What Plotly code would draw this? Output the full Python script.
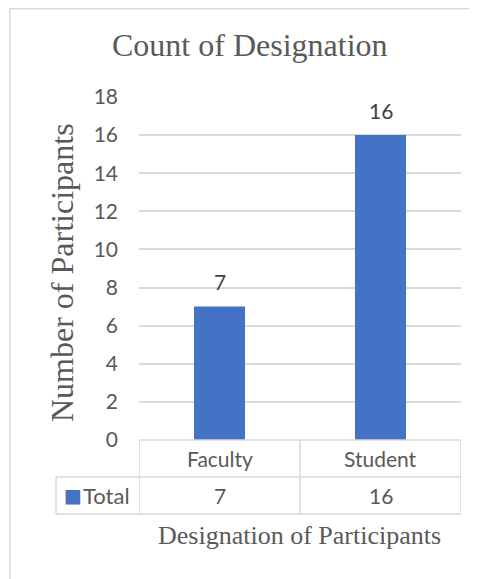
import plotly.graph_objects as go

categories = ["Faculty", "Student"]
values = [7, 16]
series_name = "Total"
chart_title = "Count of Designation"
x_title = "Designation of Participants"
y_title = "Number of Participants"
y_ticks = [0, 2, 4, 6, 8, 10, 12, 14, 16, 18]

W, H = 477, 579
OFF = 8  # page body margin offset
BAR = "#4472C4"
GRID = "#d9d9d9"
TXT = "#595959"
DARK = "#404040"
SANS = "Lato, 'Liberation Sans', sans-serif"
SERIF = "'Liberation Serif', 'Times New Roman', serif"

def px(x):
    return (x - OFF) / W

def py(y):
    return 1 - (y - OFF) / H

fig = go.Figure()
fig.add_trace(go.Bar(x=categories, y=values, name=series_name,
                     marker=dict(color=BAR, line=dict(width=0)),
                     showlegend=False, hoverinfo="skip"))

annotations = []
for c, v in zip(categories, values):
    annotations.append(dict(x=c, y=v, xref="x", yref="y", text=str(v),
                            showarrow=False, yanchor="middle", yshift=25,
                            font=dict(family=SANS, size=21, color=DARK)))
for c, v in zip(categories, values):
    annotations.append(dict(x=c, y=py(458.5), xref="x", yref="paper", text=c,
                            showarrow=False, yanchor="middle",
                            font=dict(family=SANS, size=21, color=TXT)))
    annotations.append(dict(x=c, y=py(495.5), xref="x", yref="paper", text=str(v),
                            showarrow=False, yanchor="middle",
                            font=dict(family=SANS, size=21, color=TXT)))
annotations.append(dict(x=px(62), y=py(495), xref="paper", yref="paper",
                        text="■",
                        showarrow=False, xanchor="left", yanchor="middle",
                        font=dict(family="DejaVu Sans", size=19, color=BAR)))
annotations.append(dict(x=px(81), y=py(495.5), xref="paper", yref="paper",
                        text=series_name,
                        showarrow=False, xanchor="left", yanchor="middle",
                        font=dict(family=SANS, size=22, color=TXT)))
annotations.append(dict(x=px(250), y=py(45), xref="paper", yref="paper",
                        text=chart_title, showarrow=False, yanchor="middle",
                        font=dict(family=SERIF, size=32, color=TXT)))
annotations.append(dict(x=px(299), y=py(535), xref="paper", yref="paper",
                        text=x_title, showarrow=False, yanchor="middle",
                        font=dict(family=SERIF, size=26, color=TXT)))
annotations.append(dict(x=px(62), y=py(273), xref="paper", yref="paper",
                        text=y_title, showarrow=False, textangle=-90,
                        xanchor="center", yanchor="middle",
                        font=dict(family=SERIF, size=32, color=TXT)))

n = len(categories)
LINE = dict(color=GRID, width=1.5)
shapes = []
shapes.append(dict(type="rect", xref="paper", yref="paper",
                   x0=px(10), x1=1.2, y0=-0.2, y1=py(8.8), line=LINE))
for i in range(n + 1):
    shapes.append(dict(type="line", xref="x", yref="paper",
                       x0=i - 0.5, x1=i - 0.5, y0=py(440), y1=py(514), line=LINE))
shapes.append(dict(type="line", xref="paper", yref="paper",
                   x0=px(139), x1=px(461), y0=py(440), y1=py(440), line=LINE))
for yy in (477, 514):
    shapes.append(dict(type="line", xref="paper", yref="paper",
                       x0=px(56), x1=px(461), y0=py(yy), y1=py(yy), line=LINE))
shapes.append(dict(type="line", xref="paper", yref="paper",
                   x0=px(56), x1=px(56), y0=py(477), y1=py(514), line=LINE))

fig.update_layout(
    template="none",
    width=W, height=H,
    margin=dict(l=0, r=0, t=0, b=0, pad=0, autoexpand=False),
    paper_bgcolor="white", plot_bgcolor="white",
    bargap=0.683,
    xaxis=dict(domain=[px(139), px(461)], range=[-0.5, n - 0.5],
               showticklabels=False, showgrid=False, zeroline=False,
               showline=False, ticks="", automargin=False),
    yaxis=dict(domain=[py(440), py(97)], range=[0, 18],
               tickvals=y_ticks, showgrid=True, gridcolor=GRID, gridwidth=1.5,
               zeroline=False, showline=False, ticks="", automargin=False,
               ticklabelstandoff=20,
               tickfont=dict(family=SANS, size=21, color=TXT)),
    annotations=annotations,
    shapes=shapes,
    showlegend=False,
)

fig.write_html("out.html")
